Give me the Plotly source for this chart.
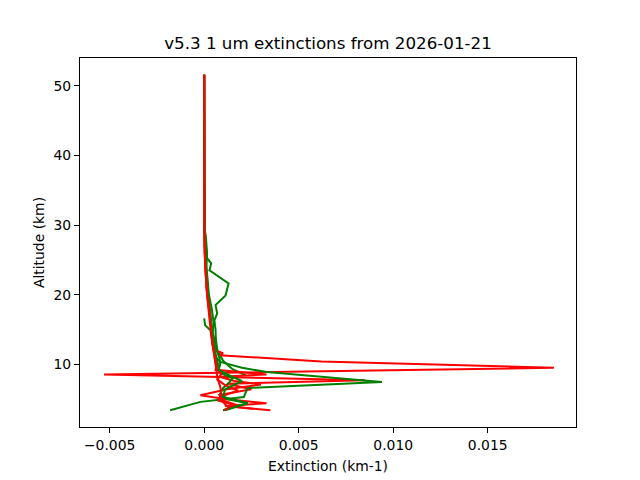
import plotly.graph_objects as go

# profiles: altitude (km) and extinction (km-1)
alt_g1 = [51.6, 45.0, 40.0, 35.0, 30.0, 27.5, 25.2, 24.5, 23.5, 21.6, 19.9, 18.5, 17.3, 16.3, 15.0, 13.5, 12.0, 10.5, 9.3, 8.4]
ext_g1 = [0.0, 0.0, 0.0, 0.0, 0.00002, 0.00008, 0.00016, 0.00037, 0.00028, 0.00129, 0.00113, 0.00060, 0.00069, 0.00054, 0.00060, 0.00062, 0.00070, 0.00100, 0.00150, 0.00220]

alt_r1 = [51.6, 45.0, 40.0, 35.0, 30.0, 27.0, 24.0, 21.0, 18.0, 15.0, 13.0, 12.0, 11.6, 11.3, 10.4, 9.5, 8.55, 7.7, 7.2, 6.4, 5.6, 4.8, 4.1, 3.4]
ext_r1 = [0.0, 0.0, 0.0, 0.0, 0.0, 0.00002, 0.00006, 0.00012, 0.00025, 0.00040, 0.00050, 0.00060, 0.00100, 0.00080, 0.00620, 0.01850, -0.00530, 0.00850, 0.00120, 0.00250, 0.00080, 0.00100, 0.00180, 0.00100]

alt_g2 = [16.6, 15.6, 14.9, 13.5, 12.0, 11.0, 10.3, 9.5, 8.9, 7.45, 6.6, 5.3, 4.6, 3.4]
ext_g2 = [0.0, 0.00005, 0.00033, 0.00040, 0.00050, 0.00060, 0.00090, 0.00200, 0.00330, 0.00940, 0.00230, 0.00210, -0.00020, -0.00180]

alt_r2 = [51.6, 45.0, 40.0, 35.0, 30.0, 26.0, 22.0, 19.0, 16.0, 14.0, 12.5, 11.0, 10.0, 9.2, 8.55, 8.2, 7.6, 7.1, 6.4, 5.55, 5.0, 4.4, 4.0, 3.4]
ext_r2 = [0.0, 0.0, 0.0, 0.0, 0.0, 0.00003, 0.00010, 0.00020, 0.00035, 0.00045, 0.00050, 0.00060, 0.00070, 0.00060, 0.00330, 0.00080, 0.00160, 0.00300, 0.00120, -0.00020, 0.00110, 0.00330, 0.00110, 0.00350]

alt_g3 = [51.6, 45.0, 40.0, 35.0, 30.0, 28.0, 25.0, 22.0, 20.0, 18.0, 16.0, 14.0, 12.5, 11.5, 10.5, 9.5, 8.7, 8.0, 7.3, 6.6, 5.8, 5.0, 4.4, 3.4]
ext_g3 = [0.0, 0.0, 0.0, 0.0, 0.00001, 0.00003, 0.00008, 0.00014, 0.00022, 0.00030, 0.00038, 0.00045, 0.00052, 0.00060, 0.00070, 0.00075, 0.00090, 0.00150, 0.00130, 0.00100, 0.00085, 0.00120, 0.00230, 0.00100]

alt_r3 = [51.6, 45.0, 40.0, 35.0, 30.0, 25.0, 20.0, 16.0, 13.0, 11.0, 9.5, 8.6, 7.8, 7.0, 6.2, 5.4, 4.6, 4.0, 3.6]
ext_r3 = [0.0, 0.0, 0.0, 0.0, 0.0, 0.00005, 0.00018, 0.00032, 0.00042, 0.00055, 0.00065, 0.00090, 0.00070, 0.00110, 0.00180, 0.00090, 0.00100, 0.00120, 0.00260]

alt_g4 = [51.6, 45.0, 40.0, 35.0, 30.0, 28.0, 26.0, 24.0, 22.0, 20.0, 18.0, 16.0, 14.5, 13.0, 12.0, 11.0, 10.0, 9.2, 8.2, 7.6, 6.4, 5.3, 4.4, 3.4]
ext_g4 = [0.0, 0.0, 0.0, 0.0, 0.0, 0.00010, 0.00015, 0.00012, 0.00020, 0.00025, 0.00040, 0.00050, 0.00045, 0.00060, 0.00065, 0.00080, 0.00085, 0.00075, 0.00150, 0.00200, 0.00110, 0.00100, 0.00230, 0.00110]

alt_r4 = [51.6, 45.0, 40.0, 35.0, 30.0, 25.0, 20.0, 16.0, 13.0, 11.0, 9.5, 8.0, 6.8, 5.8, 4.8, 4.2, 3.4]
ext_r4 = [0.0, 0.0, 0.0, 0.0, 0.0, 0.00004, 0.00015, 0.00030, 0.00045, 0.00055, 0.00060, 0.00070, 0.00085, 0.00090, 0.00075, 0.00150, 0.00110]

profiles = [
    (ext_g1, alt_g1, "#008000"), (ext_r1, alt_r1, "#ff0000"),
    (ext_g2, alt_g2, "#008000"), (ext_r2, alt_r2, "#ff0000"),
    (ext_g3, alt_g3, "#008000"), (ext_r3, alt_r3, "#ff0000"),
    (ext_g4, alt_g4, "#008000"), (ext_r4, alt_r4, "#ff0000"),
]

fig = go.Figure()
for ext, alt, col in profiles:
    fig.add_trace(go.Scatter(x=ext, y=alt, mode="lines",
                             line=dict(color=col, width=2), showlegend=False))

axis_style = dict(showline=True, linecolor="black", linewidth=1, mirror=True,
                  ticks="outside", ticklen=5, tickcolor="black", showgrid=False,
                  zeroline=False, tickfont=dict(size=13.9, color="black"))

fig.update_layout(
    width=640, height=480,
    margin=dict(l=72, r=72, t=50, b=61),
    paper_bgcolor="white", plot_bgcolor="white",
    font=dict(family="DejaVu Sans", color="black"),
    title=dict(text="v5.3 1 um extinctions from 2026-01-21", x=0.5, xref="paper",
               y=1 - 35 / 480, yref="container", yanchor="middle",
               font=dict(size=16.7, color="black")),
    xaxis=dict(range=[-0.00657, 0.01967], tick0=0, dtick=0.005, tickformat=".3f",
               title=dict(text="Extinction (km-1)", font=dict(size=13.9), standoff=9),
               **axis_style),
    yaxis=dict(range=[0.99, 54.0], tick0=0, dtick=10,
               title=dict(text="Altitude (km)", font=dict(size=13.9), standoff=5),
               **axis_style),
)

fig.write_html("out.html")
